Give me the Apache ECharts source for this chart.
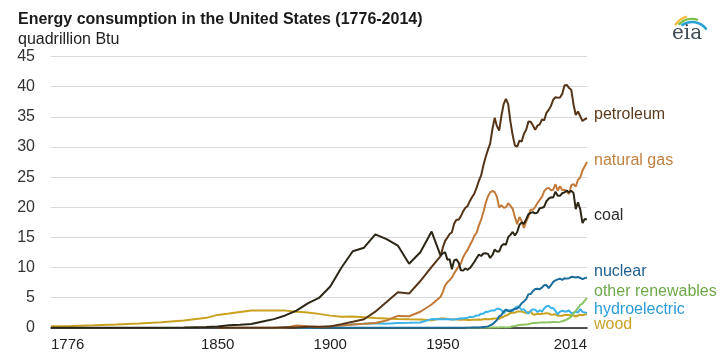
<!DOCTYPE html>
<html><head><meta charset="utf-8">
<script src="https://cdn.jsdelivr.net/npm/echarts@6/dist/echarts.min.js"></script>
<style>html,body{margin:0;padding:0;background:#fff}#c{width:724px;height:357px}</style>
</head><body><div id="c"></div>
<script>
// ---- DATA ----
const earlyYears = [1776,1785,1795,1805,1815,1825,1835,1845,1850,1855,1860,1865,1870,1875,1880,1885,1890,1895,1900,1905,1910,1915,1920,1925,1930,1935,1940,1945];
const annualYears = [];
for (let y = 1949; y <= 2014; y++) annualYears.push(y);
const years = earlyYears.concat(annualYears);

const xTickLabels = [1776, 1850, 1900, 1950, 2014];
const seriesNames = ['petroleum','natural gas','coal','nuclear','other renewables','hydroelectric','wood'];

const petroleumEarly = [null,null,null,null,null,null,null,null,0,0,0.003,0.02,0.011,0.021,0.096,0.04,0.156,0.168,0.229,0.61,1.007,1.418,2.676,4.28,5.895,5.675,7.76,10.11];
const petroleumAnnual = [11.88,13.32,14.43,14.96,15.56,15.84,17.25,17.94,17.93,18.53,19.32,19.92,20.22,21.05,21.70,22.30,23.25,24.40,25.28,26.98,28.34,29.52,30.56,32.95,34.84,33.46,32.73,35.18,37.12,37.97,37.12,34.20,31.93,30.23,30.05,31.05,30.92,32.20,32.87,34.22,34.21,33.55,32.85,33.53,33.75,34.56,34.44,35.68,36.16,36.82,37.84,38.26,38.19,38.22,38.81,40.20,40.30,39.80,39.50,37.10,35.30,35.90,35.10,34.30,34.60,34.80];

const gasEarly = [null,null,null,null,null,null,null,null,0,0,0,0,0,0,0,0.372,0.257,0.147,0.252,0.372,0.54,0.673,0.813,1.212,1.969,1.919,2.665,3.871];
const gasAnnual = [5.15,5.97,7.05,7.55,7.91,8.33,9.00,9.61,10.19,10.66,11.72,12.39,12.93,13.73,14.40,15.29,15.77,16.99,17.94,19.21,20.68,21.79,22.47,22.70,22.51,21.73,19.95,20.35,19.93,20.00,20.67,20.24,19.74,18.36,17.20,18.38,17.70,16.59,17.64,18.45,19.60,19.60,20.03,20.71,21.23,21.73,22.67,23.09,23.22,22.83,22.91,23.82,22.77,23.51,22.83,22.91,22.56,22.22,23.66,23.84,23.42,24.57,24.95,26.09,26.80,27.50];

const coalEarly = [0,0,0,0,0,0.01,0.04,0.12,0.22,0.42,0.52,0.63,1.05,1.44,2.05,2.84,4.06,4.95,6.84,10.0,12.71,13.29,15.50,14.71,13.64,10.63,12.54,15.97];
const coalAnnual = [11.98,12.35,12.55,11.31,11.37,9.72,11.17,11.35,10.82,9.53,9.52,9.84,9.62,9.91,10.41,10.96,11.58,12.14,11.91,12.33,12.38,12.27,11.60,12.08,12.97,12.66,12.66,13.58,13.92,13.77,15.04,15.42,15.91,15.32,15.89,17.07,17.48,17.26,18.01,18.85,19.07,19.17,18.99,19.12,19.84,19.91,20.09,21.00,21.45,21.66,21.62,22.58,21.91,21.90,22.32,22.47,22.80,22.45,22.75,22.39,19.69,20.83,19.66,17.38,18.04,17.99];

const nuclearEarly = [null,null,null,null,null,null,null,null,null,null,null,null,null,null,null,0,0,0,0,0,0,0,0,0,0,0,0,0];
const nuclearAnnual = [0,0,0,0,0,0,0,0,0,0.002,0.002,0.006,0.02,0.026,0.038,0.04,0.043,0.064,0.088,0.142,0.154,0.239,0.413,0.584,0.91,1.272,1.90,2.111,2.702,3.024,2.776,2.739,3.008,3.131,3.203,3.553,4.076,4.38,4.754,5.587,5.602,6.104,6.422,6.479,6.41,6.694,7.075,7.087,6.597,7.068,7.61,7.862,8.029,8.145,7.96,8.223,8.161,8.215,8.459,8.426,8.356,8.434,8.269,8.062,8.244,8.338];

const otherEarly = earlyYears.map(() => null);
const otherAnnual = [null,null,null,null,null,null,null,null,null,null,null,0.001,0.002,0.002,0.004,0.005,0.004,0.004,0.007,0.009,0.013,0.011,0.012,0.031,0.043,0.053,0.07,0.078,0.077,0.064,0.084,0.11,0.25,0.30,0.38,0.45,0.50,0.52,0.55,0.58,0.70,0.78,0.80,0.85,0.86,0.90,0.88,0.90,0.94,0.92,0.95,0.98,0.90,0.98,1.10,1.20,1.35,1.60,1.85,2.40,2.80,3.30,3.80,4.00,4.50,4.95];

const hydroEarly = [null,null,null,null,null,null,null,null,null,null,null,null,null,null,null,0,0.022,0.09,0.25,0.386,0.539,0.659,0.738,0.668,0.785,0.831,0.88,1.442];
const hydroAnnual = [1.425,1.415,1.424,1.466,1.413,1.36,1.36,1.435,1.516,1.592,1.548,1.608,1.656,1.816,1.771,1.886,2.059,2.062,2.347,2.349,2.648,2.634,2.824,2.864,2.861,3.177,3.155,2.976,2.333,2.937,2.931,2.90,2.758,3.266,3.527,3.386,2.97,3.071,2.635,2.334,2.837,3.046,3.016,2.617,2.892,2.683,3.205,3.59,3.64,3.297,3.268,2.811,2.242,2.689,2.825,2.69,2.703,2.869,2.446,2.511,2.669,2.539,3.103,2.629,2.562,2.467];

const woodEarly = [0.25,0.31,0.41,0.53,0.72,0.93,1.23,1.65,2.14,2.36,2.64,2.86,2.89,2.87,2.85,2.68,2.52,2.31,2.02,1.84,1.86,1.76,1.61,1.53,1.46,1.40,1.36,1.26];
const woodAnnual = [1.549,1.562,1.535,1.474,1.419,1.394,1.424,1.416,1.334,1.323,1.353,1.32,1.295,1.30,1.323,1.337,1.335,1.369,1.34,1.419,1.44,1.431,1.432,1.503,1.527,1.538,1.497,1.713,1.838,2.038,2.152,2.476,2.496,2.51,2.684,2.686,2.687,2.562,2.463,2.577,2.68,2.216,2.214,2.313,2.26,2.324,2.37,2.437,2.371,2.184,2.214,2.262,2.006,1.995,2.002,2.121,2.136,2.109,2.098,2.044,1.881,2.044,2.153,2.079,2.203,2.237];

// ---- STYLE ----
const lineColors = {'petroleum':'#553519','natural gas':'#c27a38','coal':'#2b2616','nuclear':'#1a6c9c','other renewables':'#8dc462','hydroelectric':'#3ab4ea','wood':'#c8a11e'};
const textColors = {'petroleum':'#5b3b1e','natural gas':'#c0813e','coal':'#2b2b2b','nuclear':'#1d5e8c','other renewables':'#6ea84a','hydroelectric':'#2c9cd8','wood':'#c9a227'};
const labelY = {'petroleum':116,'natural gas':161.5,'coal':217,'nuclear':272.5,'other renewables':293,'hydroelectric':310.5,'wood':326};

const values = {
  'petroleum': petroleumEarly.concat(petroleumAnnual),
  'natural gas': gasEarly.concat(gasAnnual),
  'coal': coalEarly.concat(coalAnnual),
  'nuclear': nuclearEarly.concat(nuclearAnnual),
  'other renewables': otherEarly.concat(otherAnnual),
  'hydroelectric': hydroEarly.concat(hydroAnnual),
  'wood': woodEarly.concat(woodAnnual)
};

const drawOrder = ['wood','hydroelectric','other renewables','nuclear','natural gas','petroleum','coal'];
const FONT = '"Liberation Sans", Arial, sans-serif';

const series = drawOrder.map(name => ({
  name, type: 'line', showSymbol: false, symbol: 'none',
  data: years.map((y, i) => values[name][i] == null ? null : [y, values[name][i]]).filter(d => d),
  lineStyle: { color: lineColors[name], width: 2 },
  itemStyle: { color: lineColors[name] },
  silent: true, animation: false
}));

const graphics = seriesNames.map(name => ({
  type: 'text', left: 594, top: labelY[name] - 9,
  style: { text: name, fill: textColors[name], font: '16px ' + FONT }
}));
// eia logo
graphics.push(
  { type: 'arc', shape: { cx: 692, cy: 36, r: 20, startAngle: Math.PI*1.18, endAngle: Math.PI*1.42 }, style: { stroke: '#f4c040', lineWidth: 2.5, fill: null } },
  { type: 'arc', shape: { cx: 692, cy: 38, r: 19, startAngle: Math.PI*1.25, endAngle: Math.PI*1.6 }, style: { stroke: '#7bbf44', lineWidth: 2.5, fill: null } },
  { type: 'arc', shape: { cx: 692, cy: 40, r: 18, startAngle: Math.PI*1.3, endAngle: Math.PI*1.8 }, style: { stroke: '#2aa0d8', lineWidth: 2.5, fill: null } },
  { type: 'text', left: 672, top: 24, style: { text: 'eia', fill: '#3d4a57', font: '20px "DejaVu Serif", "Liberation Serif", serif' } }
);

const chart = echarts.init(document.getElementById('c'), null, { renderer: 'canvas' });
chart.setOption({
  animation: false,
  backgroundColor: '#fff',
  title: {
    text: 'Energy consumption in the United States (1776-2014)',
    subtext: 'quadrillion Btu',
    left: 13, top: 7, itemGap: 4,
    textStyle: { fontFamily: FONT, fontSize: 16, fontWeight: 'bold', color: '#1a1a1a' },
    subtextStyle: { fontFamily: FONT, fontSize: 16, color: '#222' }
  },
  grid: { left: 51, right: 137, top: 56.6, bottom: 29.2, containLabel: false },
  xAxis: {
    type: 'value', min: 1776, max: 2014,
    axisLine: { show: true, lineStyle: { color: '#1a1a1a', width: 1.5 } },
    axisTick: { show: false },
    splitLine: { show: false },
    axisLabel: {
      customValues: xTickLabels, formatter: v => String(v),
      fontFamily: FONT, fontSize: 15, color: '#222', margin: 10,
      alignMinLabel: 'left', alignMaxLabel: 'right', showMinLabel: true, showMaxLabel: true
    }
  },
  yAxis: {
    type: 'value', min: 0, max: 45, interval: 5,
    axisLine: { show: false }, axisTick: { show: false },
    splitLine: { lineStyle: { color: '#d9d9d9', width: 1 } },
    axisLabel: { fontFamily: FONT, fontSize: 16, color: '#333', margin: 16 }
  },
  series,
  graphic: graphics
});
</script>
</body></html>
